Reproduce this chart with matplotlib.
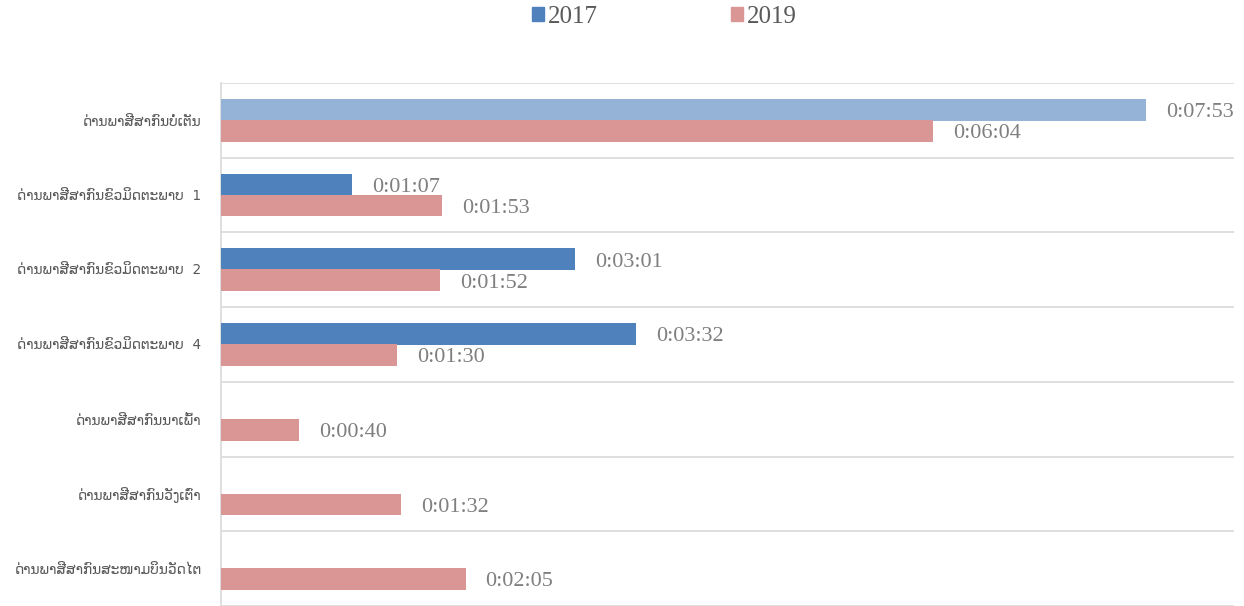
import matplotlib
matplotlib.use("Agg")
import matplotlib.pyplot as plt
from matplotlib.patches import Patch
import numpy as np

categories = [
    "ດ່ານພາສີສາກົນບໍ່ເຕັນ",
    "ດ່ານພາສີສາກົນຂົວມິດຕະພາບ  1",
    "ດ່ານພາສີສາກົນຂົວມິດຕະພາບ  2",
    "ດ່ານພາສີສາກົນຂົວມິດຕະພາບ  4",
    "ດ່ານພາສີສາກົນນາເພົ້າ",
    "ດ່ານພາສີສາກົນວັງເຕົ່າ",
    "ດ່ານພາສີສາກົນສະໜາມບິນວັດໄຕ",
]
times_2017 = ["0:07:53", "0:01:07", "0:03:01", "0:03:32", None, None, None]
times_2019 = ["0:06:04", "0:01:53", "0:01:52", "0:01:30", "0:00:40", "0:01:32", "0:02:05"]


def to_sec(t):
    if t is None:
        return np.nan
    h, m, s = (int(p) for p in t.split(":"))
    return h * 3600 + m * 60 + s


v2017 = np.array([to_sec(t) for t in times_2017], dtype=float)
v2019 = np.array([to_sec(t) for t in times_2019], dtype=float)

c2017 = "#4F81BD"
c2017_hi = "#95B3D7"
c2019 = "#D99694"
label_color = "#7F7F7F"
tick_color = "#595959"

fig = plt.figure(figsize=(12.44, 6.06), dpi=100)
ax = fig.add_axes([221 / 1244, 0.0, (1234 - 221) / 1244, 1 - 83 / 606])

y = np.arange(len(categories))
h = 0.29
off = 0.14

colors17 = [c2017_hi if i == 0 else c2017 for i in range(len(categories))]
for i in range(len(categories)):
    if not np.isnan(v2017[i]):
        ax.barh(y[i] - off, v2017[i], height=h, color=colors17[i], zorder=3)
        ax.annotate(times_2017[i], (v2017[i], y[i] - off), xytext=(14.4, -2),
                    textcoords="offset points", va="center", ha="left",
                    fontsize=16, family="Liberation Serif", color=label_color)
    ax.barh(y[i] + off, v2019[i], height=h, color=c2019, zorder=3)
    ax.annotate(times_2019[i], (v2019[i], y[i] + off), xytext=(14.4, -2),
                textcoords="offset points", va="center", ha="left",
                fontsize=16, family="Liberation Serif", color=label_color)

ax.set_xlim(0, (1234 - 221) / 1.956)
ax.set_ylim(len(categories) - 0.5, -0.5)
ax.set_yticks(y)
ax.set_yticklabels(categories, fontsize=9.8, color=tick_color,
                   family=["DejaVu Sans"])
ax.tick_params(axis="y", length=0, pad=14)
ax.set_xticks([])

for b in np.arange(-0.5, len(categories), 1.0):
    ax.axhline(b, color="#D9D9D9", lw=1.2, zorder=1)

for s in ["top", "right", "bottom"]:
    ax.spines[s].set_visible(False)
ax.spines["left"].set_color("#D9D9D9")
ax.spines["left"].set_linewidth(1.2)

handles = [Patch(color=c2017, label="2017"), Patch(color=c2019, label="2019")]
fig.legend(handles=handles, loc="center", bbox_to_anchor=(0.534, 0.972), ncol=2,
           frameon=False, prop={"family": "Liberation Serif", "size": 18},
           handlelength=0.5, handleheight=0.5, handletextpad=0.15,
           columnspacing=5.3, labelcolor=tick_color)

fig.savefig("out.png", dpi=100)
